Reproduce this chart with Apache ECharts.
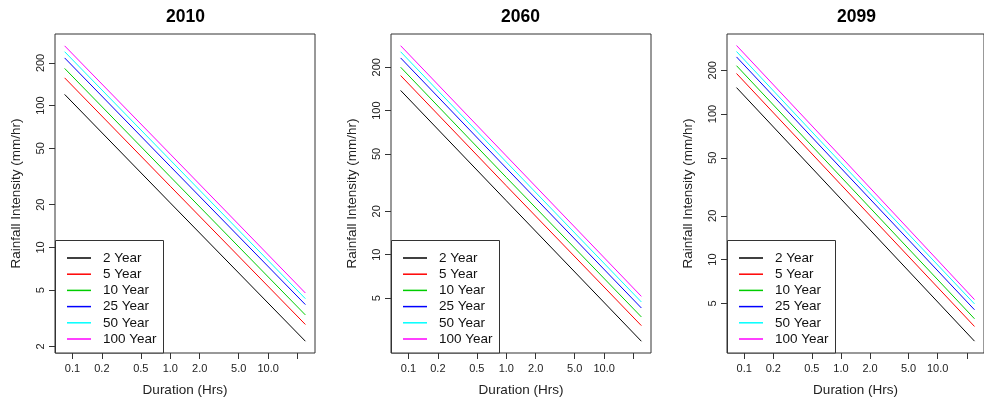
<!DOCTYPE html>
<html><head><meta charset="utf-8">
<script src="https://cdn.jsdelivr.net/npm/echarts@6/dist/echarts.min.js"></script>
<style>html,body{margin:0;padding:0;background:#fff}#c{width:984px;height:402px}</style>
</head><body><div id="c"></div>
<script>
// ---- data ----
const panelTitles = ['2010', '2060', '2099'];
const returnPeriods = ['2 Year', '5 Year', '10 Year', '25 Year', '50 Year', '100 Year'];
const durationsHrs = [0.0833, 1, 24];

// Rainfall intensity (mm/hr) at durationsHrs
const p2010_2yr   = [120, 20.6, 2.18];
const p2010_5yr   = [157, 27.0, 2.86];
const p2010_10yr  = [183, 31.5, 3.34];
const p2010_25yr  = [217, 37.3, 3.95];
const p2010_50yr  = [240, 41.3, 4.35];
const p2010_100yr = [264, 45.5, 4.77];

const p2060_2yr   = [138, 23.7, 2.51];
const p2060_5yr   = [175, 30.1, 3.22];
const p2060_10yr  = [200, 34.4, 3.70];
const p2060_25yr  = [232, 39.9, 4.27];
const p2060_50yr  = [256, 44.0, 4.70];
const p2060_100yr = [282, 48.5, 5.14];

const p2099_2yr   = [152, 26.1, 2.75];
const p2099_5yr   = [190, 32.7, 3.47];
const p2099_10yr  = [215, 37.0, 3.92];
const p2099_25yr  = [247, 42.5, 4.52];
const p2099_50yr  = [269, 46.3, 4.96];
const p2099_100yr = [296, 50.9, 5.31];

const xTickValues  = [0.1, 0.2, 0.5, 1, 2, 5, 10, 20];
const xLabelValues = [0.1, 0.2, 0.5, 1, 2, 5, 10];
const yTickValues  = [2, 5, 10, 20, 50, 100, 200];

// ---- layout / style ----
const panels = [
  [p2010_2yr, p2010_5yr, p2010_10yr, p2010_25yr, p2010_50yr, p2010_100yr],
  [p2060_2yr, p2060_5yr, p2060_10yr, p2060_25yr, p2060_50yr, p2060_100yr],
  [p2099_2yr, p2099_5yr, p2099_10yr, p2099_25yr, p2099_50yr, p2099_100yr]
];
const colors = ['#000000', '#FF0000', '#00CD00', '#0000FF', '#00FFFF', '#FF00FF'];
const gridLeft = [55, 391, 727];
const titleLeft = [166, 501, 837];
const xExtent = [0.0664, 30.1];
const yMin = [1.80, 2.08, 2.28];
const yMax = [320, 340, 355];
const FONT = '"Liberation Sans", Arial, sans-serif';

const grid = [], xAxis = [], yAxis = [], series = [], legend = [], title = [], graphic = [];
panels.forEach((panel, p) => {
  grid.push({left: gridLeft[p], top: 34, width: 260, height: 319, show: true,
    borderColor: '#333', borderWidth: 1, backgroundColor: 'transparent', containLabel: false});
  title.push({text: panelTitles[p], left: titleLeft[p], top: 8, padding: 0,
    textStyle: {fontFamily: FONT, fontSize: 17.5, fontWeight: 'bold', color: '#000'}});
  xAxis.push({type: 'log', gridIndex: p, min: xExtent[0], max: xExtent[1],
    name: 'Duration (Hrs)', nameLocation: 'middle', nameGap: 30,
    nameTextStyle: {fontFamily: FONT, fontSize: 13.5, color: '#222'},
    axisLine: {show: false, onZero: false},
    axisTick: {show: true, length: 6, customValues: xTickValues, lineStyle: {color: '#333'}},
    axisLabel: {customValues: xLabelValues, margin: 10, fontFamily: FONT, fontSize: 11, color: '#222',
      formatter: v => Number(v).toFixed(1)},
    splitLine: {show: false}, minorTick: {show: false}});
  yAxis.push({type: 'log', gridIndex: p, min: yMin[p], max: yMax[p],
    name: 'Rainfall Intensity (mm/hr)', nameLocation: 'middle', nameGap: 32,
    nameTextStyle: {fontFamily: FONT, fontSize: 13.5, color: '#222'},
    axisLine: {show: false, onZero: false},
    axisTick: {show: true, length: 6, customValues: yTickValues, lineStyle: {color: '#333'}},
    axisLabel: {customValues: yTickValues, rotate: 90, margin: 9, fontFamily: FONT, fontSize: 11, color: '#222',
      formatter: v => String(Math.round(v))},
    splitLine: {show: false}, minorTick: {show: false}});
  panel.forEach((vals, s) => {
    series.push({type: 'line', name: returnPeriods[s], xAxisIndex: p, yAxisIndex: p,
      showSymbol: false, symbol: 'none', color: colors[s],
      lineStyle: {width: 1, color: colors[s]},
      data: durationsHrs.map((d, i) => [d, vals[i]]), animation: false});
  });
  graphic.push({type: 'rect', z: 3, shape: {x: gridLeft[p] + 0.5, y: 240.5, width: 108, height: 112.5},
    style: {fill: '#fff', stroke: '#333', lineWidth: 1}});
  legend.push({data: returnPeriods, orient: 'vertical', left: gridLeft[p] + 12, top: 250, padding: 0,
    itemWidth: 24, itemHeight: 1.5, itemGap: 0.2, icon: 'rect', selectedMode: false, z: 5,
    textStyle: {fontFamily: FONT, fontSize: 13.5, lineHeight: 16, color: '#111', padding: [0, 0, 0, 7]}});
});

const chart = echarts.init(document.getElementById('c'), null, {renderer: 'canvas'});
chart.setOption({animation: false, backgroundColor: '#fff', title, grid, xAxis, yAxis, series, legend, graphic});
</script>
</body></html>
